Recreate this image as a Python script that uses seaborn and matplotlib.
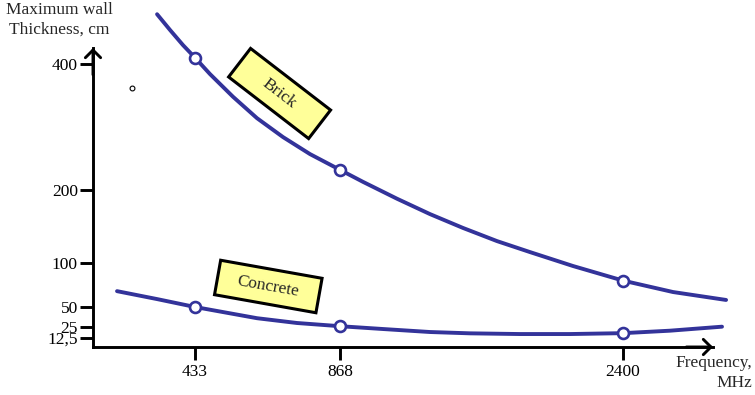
import numpy as np
import matplotlib
matplotlib.use("Agg")
import matplotlib.pyplot as plt
from matplotlib.patches import Rectangle
import seaborn as sns

# ---- data -------------------------------------------------------------
marker_freq = [433, 868, 2400]
brick_at_marker = [410, 232, 80]
concrete_at_marker = [50, 26, 18]

brick_freq = [272, 327, 382, 433, 478, 547, 619, 697, 778, 868, 992, 1177,
              1355, 1534, 1718, 1896, 2129, 2400, 2671, 2958]
brick_wall = [479, 454, 430, 410, 384, 348, 314, 284, 257, 232, 213, 188,
              167, 148, 130, 115, 96.6, 80, 67, 58]

concrete_freq = [102, 272, 433, 619, 739, 868, 1101, 1355, 1572, 1842, 2113,
                 2400, 2654, 2936]
concrete_wall = [68, 59, 50, 36, 30, 26, 22.7, 19.3, 17.8, 17, 17, 18, 20.8, 25.4]

stray_freq = [164]
stray_wall = [362]

x_ticks = [433, 868, 2400]
x_tick_labels = ["433", "868", "2400"]
y_ticks = [12.5, 25, 50, 100, 200, 400]
y_tick_labels = ["12,5", "25", "50", "100", "200", "400"]

# Non-uniform axis scales: value anchors and their spacing along each axis
x_anchor_vals = [0, 433, 868, 2400]
x_anchor_pos = [0, 102, 247, 530]
y_anchor_vals = [0, 12.5, 25, 50, 100, 200, 400]
y_anchor_pos = [0, 9, 20, 40, 84, 157, 283]

BLUE = "#33339a"
YELLOW = "#ffff99"


def piecewise(src, dst):
    src = np.asarray(src, float)
    dst = np.asarray(dst, float)
    lo_slope = (dst[1] - dst[0]) / (src[1] - src[0])
    hi_slope = (dst[-1] - dst[-2]) / (src[-1] - src[-2])

    def f(v):
        v = np.asarray(v, float)
        out = np.interp(v, src, dst)
        out = np.where(v > src[-1], dst[-1] + (v - src[-1]) * hi_slope, out)
        out = np.where(v < src[0], dst[0] + (v - src[0]) * lo_slope, out)
        return out
    return f


fx, fx_inv = piecewise(x_anchor_vals, x_anchor_pos), piecewise(x_anchor_pos, x_anchor_vals)
fy, fy_inv = piecewise(y_anchor_vals, y_anchor_pos), piecewise(y_anchor_pos, y_anchor_vals)

sns.set_style("white")
plt.rcParams["font.family"] = ["Liberation Serif", "DejaVu Serif"]

W, H = 755, 395
fig = plt.figure(figsize=(W / 100, H / 100), dpi=100)
ax = fig.add_axes([93 / W, 48 / H, 662 / W, 347 / H])

ax.set_xscale("function", functions=(fx, fx_inv))
ax.set_yscale("function", functions=(fy, fy_inv))
ax.set_xlim(0, float(fx_inv(662)))
ax.set_ylim(0, float(fy_inv(347)))

# curves
sns.lineplot(x=brick_freq, y=brick_wall, ax=ax, color=BLUE, lw=2.8,
             estimator=None, solid_capstyle="round", solid_joinstyle="round")
sns.lineplot(x=concrete_freq, y=concrete_wall, ax=ax, color=BLUE, lw=2.8,
             estimator=None, solid_capstyle="round", solid_joinstyle="round")
for c in ax.lines:
    c.set_clip_on(False)

# open circle markers
for vals in (brick_at_marker, concrete_at_marker):
    sns.scatterplot(x=marker_freq, y=vals, ax=ax, s=62, marker="o",
                    facecolor="white", edgecolor=BLUE, linewidth=1.9,
                    zorder=5, clip_on=False)
sns.scatterplot(x=stray_freq, y=stray_wall, ax=ax, s=12, marker="o",
                facecolor="white", edgecolor="black", linewidth=0.8, zorder=5)

# axes with arrow heads
for side in ("top", "right"):
    ax.spines[side].set_visible(False)
for side in ("left", "bottom"):
    ax.spines[side].set_linewidth(2.1)
    ax.spines[side].set_color("black")
x_end = float(fx_inv(620))
y_end = float(fy_inv(299))
ax.spines["left"].set_bounds(0, y_end)
ax.spines["bottom"].set_bounds(0, x_end)
arrow = dict(arrowstyle="->,head_length=0.55,head_width=0.55", lw=2.1,
             color="black", shrinkA=0, shrinkB=0)
ax.annotate("", xy=(0, y_end), xytext=(0, y_end * 0.9), xycoords="data",
            arrowprops=arrow, annotation_clip=False)
ax.annotate("", xy=(x_end, 0), xytext=(x_end * 0.95, 0), xycoords="data",
            arrowprops=arrow, annotation_clip=False)

ax.set_xticks(x_ticks, labels=x_tick_labels)
ax.set_yticks(y_ticks, labels=y_tick_labels)
ax.minorticks_off()
ax.tick_params(axis="both", which="major", direction="out", length=9.4,
               width=2.1, labelsize=12.5, colors="black",
               left=True, bottom=True, top=False, right=False)
ax.tick_params(axis="y", pad=1.5)
ax.tick_params(axis="x", pad=2.5)
ax.set_xlabel("")
ax.set_ylabel("")
ax.grid(False)

# axis titles
fig.text(59 / W, 1 - 2 / H, "Maximum wall\nThickness, cm", ha="center",
         va="top", fontsize=12.5, linespacing=1.3)
fig.text(752 / W, 1 - 355 / H, "Frequency,\nMHz", ha="right", va="top",
         fontsize=12.5, linespacing=1.3, multialignment="right")


# rotated label boxes
def tag(text, cx, cy, w, h, angle):
    rect = Rectangle(((cx - w / 2) / 100, (H - cy - h / 2) / 100), w / 100, h / 100,
                     angle=angle, rotation_point="center",
                     transform=fig.dpi_scale_trans, facecolor=YELLOW,
                     edgecolor="black", lw=2.2)
    fig.add_artist(rect)
    fig.text(cx / W, 1 - cy / H, text, rotation=angle, rotation_mode="anchor",
             ha="center", va="center", fontsize=12.5, zorder=3)


tag("Brick", 279.6, 93.5, 101, 36, -37.6)
tag("Concrete", 268.3, 286.5, 103, 35, -10.1)

fig.savefig("out.png", dpi=100)
